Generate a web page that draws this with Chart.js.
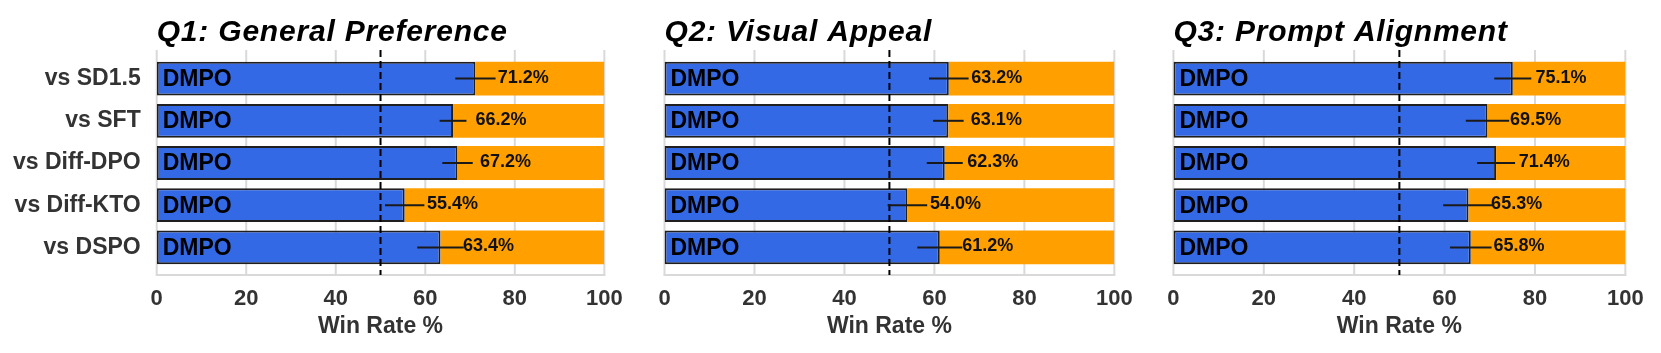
<!DOCTYPE html>
<html>
<head>
<meta charset="utf-8">
<title>DMPO win rates</title>
<script src="https://cdn.jsdelivr.net/npm/chart.js@4.4.1/dist/chart.umd.min.js"></script>
<style>
    html, body { margin: 0; padding: 0; background: #fff; }
    #wrap { position: relative; width: 1661px; height: 353px; overflow: hidden; }
    .panel { position: absolute; top: 0; height: 353px; }
</style>
</head>
<body>
<div id="wrap">
    <div class="panel" style="left:0px;width:640px"><canvas id="q1"></canvas></div>
    <div class="panel" style="left:640px;width:510px"><canvas id="q2"></canvas></div>
    <div class="panel" style="left:1150px;width:511px"><canvas id="q3"></canvas></div>
</div>
<script>
const categories = ['vs SD1.5', 'vs SFT', 'vs Diff-DPO', 'vs Diff-KTO', 'vs DSPO'];
const xTicks = [0, 20, 40, 60, 80, 100];

const q1Win = [71.2, 66.2, 67.2, 55.4, 63.4];
const q1Err = [4.5, 3.0, 3.4, 4.4, 5.2];
const q2Win = [63.2, 63.1, 62.3, 54.0, 61.2];
const q2Err = [4.4, 3.4, 4.0, 4.4, 5.0];
const q3Win = [75.1, 69.5, 71.4, 65.3, 65.8];
const q3Err = [4.1, 4.8, 4.2, 5.6, 4.6];

const FONT = '"Liberation Sans", Arial, sans-serif';
const BLUE = '#3469E6';
const ORANGE = '#FFA000';

// grid, reference line, error bars, labels and the panel title
const panelDecor = {
    id: 'panelDecor',
    beforeDatasetsDraw(chart) {
        const { ctx, chartArea: a, scales: { x } } = chart;
        const top = a.top - 7.5, bottom = a.bottom + 6.5;
        ctx.save();
        ctx.strokeStyle = '#d9d9d9';
        ctx.lineWidth = 2;
        xTicks.forEach(v => {
            const px = x.getPixelForValue(v);
            ctx.beginPath();
            ctx.moveTo(px, top);
            ctx.lineTo(px, bottom);
            ctx.stroke();
        });
        ctx.beginPath();
        ctx.moveTo(x.getPixelForValue(0) - 1, bottom);
        ctx.lineTo(x.getPixelForValue(100) + 1, bottom);
        ctx.stroke();
        ctx.restore();
    },
    afterDatasetsDraw(chart, args, opts) {
        const { ctx, chartArea: a, scales: { x, y } } = chart;
        ctx.save();

        // 50% line
        const mid = x.getPixelForValue(50);
        ctx.strokeStyle = '#000';
        ctx.lineWidth = 2;
        ctx.setLineDash([7, 4]);
        ctx.beginPath();
        ctx.moveTo(mid, a.top - 7.5);
        ctx.lineTo(mid, a.bottom + 6.5);
        ctx.stroke();
        ctx.setLineDash([]);

        opts.values.forEach((v, i) => {
            const py = y.getPixelForValue(i);
            const e = opts.errors[i];
            ctx.strokeStyle = '#1a1a1a';
            ctx.lineWidth = 2;
            ctx.beginPath();
            ctx.moveTo(x.getPixelForValue(v - e), py);
            ctx.lineTo(x.getPixelForValue(v + e), py);
            ctx.stroke();

            ctx.fillStyle = '#000';
            ctx.textBaseline = 'middle';
            ctx.textAlign = 'left';
            ctx.font = 'bold 23px ' + FONT;
            ctx.fillText('DMPO', x.getPixelForValue(0) + 6, py + 1);

            ctx.fillStyle = '#111';
            ctx.font = 'bold 18px ' + FONT;
            ctx.fillText(v.toFixed(1) + '%', x.getPixelForValue(v + 5), py - 1);
        });

        ctx.fillStyle = '#000';
        ctx.font = 'italic bold 30px ' + FONT;
        ctx.letterSpacing = '0.8px';
        ctx.textBaseline = 'alphabetic';
        ctx.textAlign = 'left';
        ctx.fillText(opts.title, a.left, 41);
        ctx.restore();
    }
};

function makePanel(canvasId, title, win, err, axisWidth, rightPad, showLabels) {
    return new Chart(document.getElementById(canvasId), {
        type: 'bar',
        data: {
            labels: categories,
            datasets: [
                {
                    label: 'DMPO',
                    data: win,
                    backgroundColor: BLUE,
                    borderColor: '#1f1f1f',
                    borderWidth: 2,
                    borderSkipped: false,
                    grouped: false,
                    order: 0,
                    barPercentage: 0.8,
                    categoryPercentage: 1
                },
                {
                    label: 'Other',
                    data: win.map(v => [v, 100]),
                    backgroundColor: ORANGE,
                    borderWidth: 0,
                    grouped: false,
                    order: 1,
                    barPercentage: 0.8,
                    categoryPercentage: 1
                }
            ]
        },
        options: {
            indexAxis: 'y',
            responsive: true,
            maintainAspectRatio: false,
            animation: false,
            events: [],
            layout: { padding: { top: 57.5, right: rightPad, bottom: 0, left: 0 } },
            plugins: {
                legend: { display: false },
                tooltip: { enabled: false },
                panelDecor: { title: title, values: win, errors: err }
            },
            scales: {
                x: {
                    type: 'linear',
                    min: 0,
                    max: 100,
                    grid: { display: false, drawTicks: false },
                    border: { display: false },
                    afterBuildTicks: scale => { scale.ticks = xTicks.map(v => ({ value: v })); },
                    afterFit: scale => { scale.height = 84.5; },
                    ticks: {
                        color: '#333',
                        padding: 17.3,
                        font: { family: FONT, size: 22, weight: 'bold' }
                    },
                    title: {
                        display: true,
                        text: 'Win Rate %',
                        color: '#333',
                        padding: { top: 0, bottom: 12.5 },
                        font: { family: FONT, size: 23, weight: 'bold' }
                    }
                },
                y: {
                    type: 'category',
                    grid: { display: false, drawTicks: false },
                    border: { display: false },
                    afterFit: scale => { scale.width = axisWidth; },
                    ticks: {
                        display: showLabels,
                        color: '#333',
                        padding: 16,
                        font: { family: FONT, size: 23, weight: 'bold' }
                    }
                }
            }
        },
        plugins: [panelDecor]
    });
}

makePanel('q1', 'Q1: General Preference', q1Win, q1Err, 156.7, 27.3, true);
makePanel('q2', 'Q2: Visual Appeal', q2Win, q2Err, 24.5, 29, false);
makePanel('q3', 'Q3: Prompt Alignment', q3Win, q3Err, 21.7, 32.5, false);
</script>
</body>
</html>
